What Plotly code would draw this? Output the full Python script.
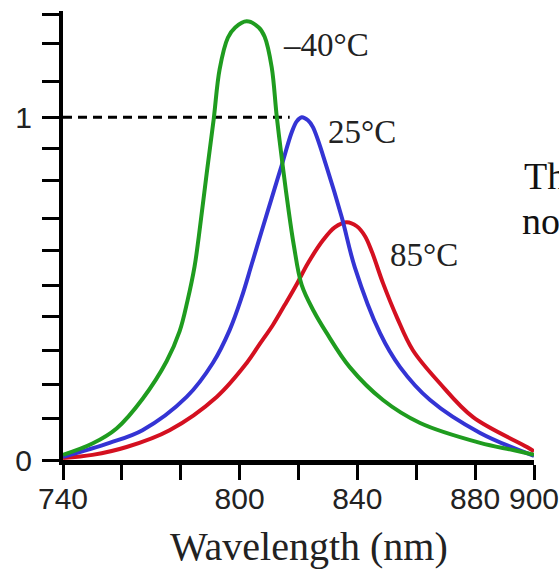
import plotly.graph_objects as go

# ---- data ----
green_x = [740, 750, 758.2, 767, 775.2, 779.6, 782.3, 784.7, 786.1, 788.8, 791.2, 793.2, 796, 798.5,
           802.4, 806.5, 808.5, 810.9, 812.6, 814.7, 816.4, 818.4, 821.1, 825.2, 829.6, 837.4,
           848.7, 861.3, 881.7, 892.9, 900]
green_y = [0.015, 0.048, 0.092, 0.178, 0.288, 0.375, 0.465, 0.565, 0.650, 0.835, 0.995, 1.140, 1.232, 1.262,
           1.280, 1.262, 1.235, 1.146, 1.003, 0.854, 0.743, 0.627, 0.510, 0.434, 0.370, 0.271,
           0.175, 0.108, 0.050, 0.029, 0.015]

blue_x = [740, 755.8, 767, 782, 790.9, 796.6, 800.7, 804.1, 807.5, 810.9, 814.3, 817.7, 819.4, 821.1,
          823.2, 824.9, 829.6, 834.7, 839.1, 847.7, 854.5, 864.7, 881.7, 900]
blue_y = [0.009, 0.050, 0.087, 0.184, 0.283, 0.379, 0.475, 0.571, 0.668, 0.764, 0.860, 0.956, 0.988, 1.000,
          0.991, 0.971, 0.854, 0.708, 0.563, 0.370, 0.271, 0.175, 0.079, 0.012]

red_x = [740, 750, 761.6, 776.2, 792.2, 802.4, 806.8, 811.3, 815.3, 819.4, 823.2, 828.3, 832.3, 836.4,
         839.8, 842.6, 845.0, 848.7, 853.4, 858.8, 868.0, 879.3, 897.6, 900]
red_y = [0.006, 0.015, 0.038, 0.087, 0.184, 0.283, 0.338, 0.394, 0.452, 0.513, 0.574, 0.641, 0.679, 0.694,
         0.682, 0.653, 0.606, 0.516, 0.417, 0.321, 0.224, 0.125, 0.038, 0.025]

ref_x = [740, 817]
ref_y = [1, 1]

x_tickvals = [740, 760, 780, 800, 820, 840, 860, 880, 900]
x_ticktext = ["740", "", "", "800", "", "840", "", "880", "900"]
y_tickvals = [0, 0.12, 0.22, 0.32, 0.42, 0.51, 0.61, 0.705, 0.815, 0.91, 1.0, 1.105, 1.215, 1.30]
y_ticktext = ["0", "", "", "", "", "", "", "", "", "", "1", "", "", ""]

labels = ["–40°C", "25°C", "85°C"]
label_x = [829.5, 841.6, 862.6]
label_y = [1.21, 0.956, 0.598]

fig = go.Figure()
fig.add_trace(go.Scatter(x=ref_x, y=ref_y, mode="lines",
                         line=dict(color="black", width=3, dash="9px,6px")))
fig.add_trace(go.Scatter(x=red_x, y=red_y, mode="lines",
                         line=dict(color="#d41020", width=4, shape="spline", smoothing=1.0)))
fig.add_trace(go.Scatter(x=blue_x, y=blue_y, mode="lines",
                         line=dict(color="#3434d4", width=4, shape="spline", smoothing=1.0)))
fig.add_trace(go.Scatter(x=green_x, y=green_y, mode="lines",
                         line=dict(color="#1f9c1f", width=4, shape="spline", smoothing=1.0)))

for t, lx, ly in zip(labels, label_x, label_y):
    fig.add_annotation(x=lx, y=ly, text=t, showarrow=False, xanchor="center", yanchor="middle",
                       font=dict(family="Liberation Serif", size=33, color="#222"))

# neighbouring paragraph text, cut off by the right edge as in the reference
fig.add_annotation(xref="paper", yref="paper", x=(522 - 63) / 471, y=(460 - 176) / 449,
                   text="The", showarrow=False, xanchor="left", yanchor="middle",
                   font=dict(family="Liberation Serif", size=38, color="#111"))
fig.add_annotation(xref="paper", yref="paper", x=(520 - 63) / 471, y=(460 - 221) / 449,
                   text="nor", showarrow=False, xanchor="left", yanchor="middle",
                   font=dict(family="Liberation Serif", size=38, color="#111"))

# axis title
fig.add_annotation(xref="paper", yref="paper", x=(309 - 63) / 471, y=(460 - 546) / 449,
                   text="Wavelength (nm)", showarrow=False, xanchor="center", yanchor="middle",
                   font=dict(family="Liberation Serif", size=40, color="#222"))

fig.update_layout(
    width=559, height=570,
    margin=dict(l=63, r=25, t=11, b=110, pad=0, autoexpand=False),
    paper_bgcolor="white", plot_bgcolor="white",
    showlegend=False,
    xaxis=dict(range=[740, 900], showgrid=False, zeroline=False, automargin=False,
               showline=True, linecolor="black", linewidth=5,
               ticks="outside", ticklen=15, tickwidth=3, tickcolor="black",
               tickvals=x_tickvals, ticktext=x_ticktext,
               ticklabeloverflow="allow", ticklabelstandoff=-7,
               tickfont=dict(family="Liberation Sans", size=30, color="#222")),
    yaxis=dict(range=[0, 1.31], showgrid=False, zeroline=False, automargin=False,
               showline=True, linecolor="black", linewidth=4,
               ticks="outside", ticklen=17, tickwidth=3, tickcolor="black",
               tickvals=y_tickvals, ticktext=y_ticktext, ticklabelstandoff=4,
               tickfont=dict(family="Liberation Sans", size=30, color="#222")),
)

fig.write_html("out.html")
